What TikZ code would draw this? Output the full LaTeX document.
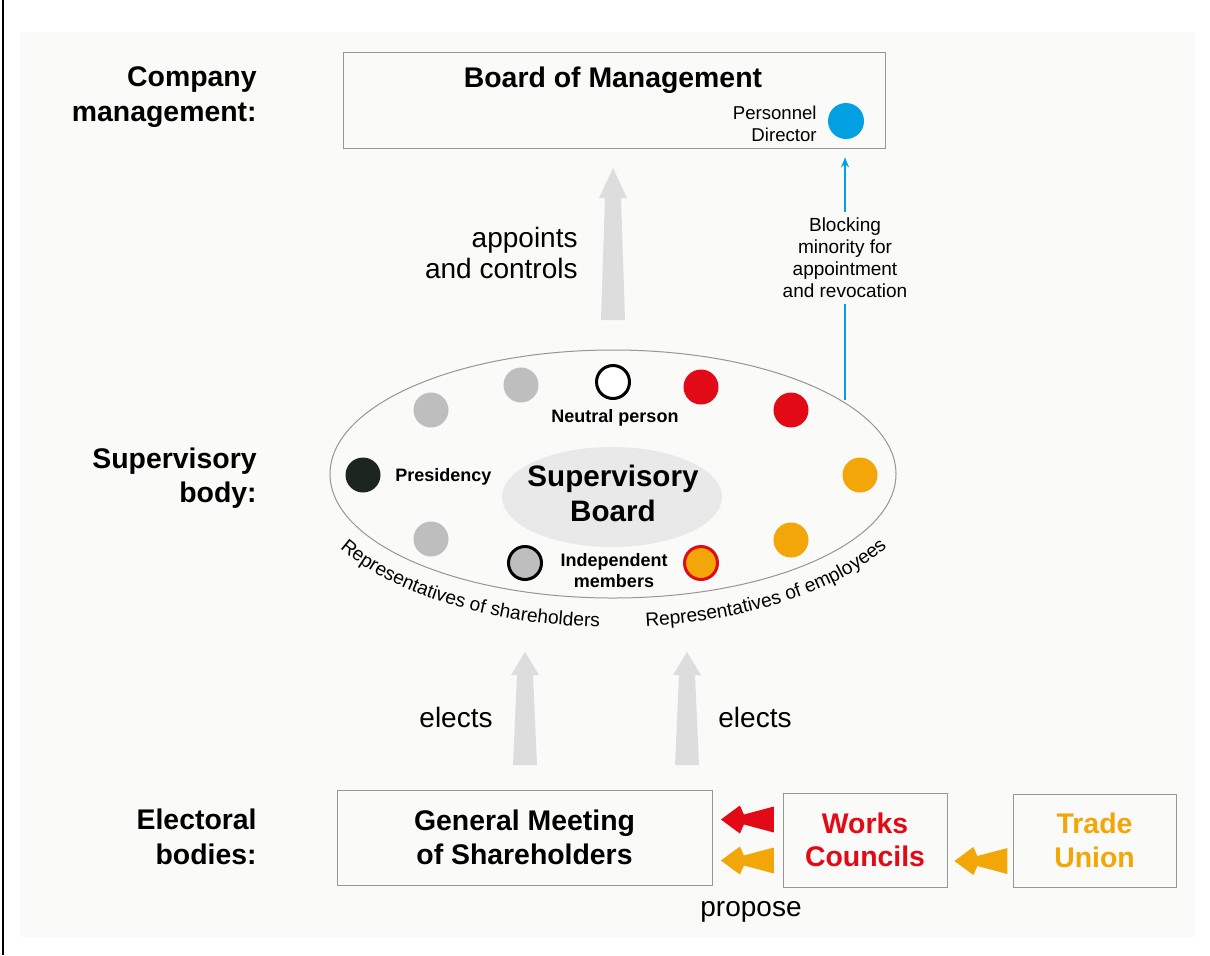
\documentclass[tikz,border=0pt]{standalone}
\usepackage{fontspec}
\setmainfont{Liberation Sans}
\usetikzlibrary{calc,positioning,arrows.meta,shapes.geometric,decorations.text}

\definecolor{boardred}{RGB}{226,10,22}
\definecolor{unionorange}{RGB}{242,166,8}
\definecolor{holdergrey}{RGB}{190,190,190}
\definecolor{presidark}{RGB}{28,38,30}
\definecolor{directorblue}{RGB}{0,160,227}
\definecolor{liftgrey}{RGB}{221,221,221}
\definecolor{coregrey}{RGB}{233,233,233}
\definecolor{framegrey}{RGB}{150,150,150}
\definecolor{paper}{RGB}{250,250,249}

% big grey arrow: tip, foot, head length
\newcommand{\liftarrow}[3]{%
  \fill[liftgrey] (#1) -- ($(#1)+(14,-#3)$) -- ($(#1)+(8,-#3)$) -- ($(#2)+(12,0)$)
    -- ($(#2)+(-12,0)$) -- ($(#1)+(-8,-#3)$) -- ($(#1)+(-14,-#3)$) -- cycle;}
% feathered arrow pointing left: colour, tip
\newcommand{\proparrow}[2]{%
  \fill[#1] (#2) -- ++(19,14) -- ++(4,-9) -- ++(30,8) -- ++(0,-26) -- ++(-30,8) -- ++(-4,-9) -- cycle;}

\begin{document}
\begin{tikzpicture}[x=0.5pt,y=0.5pt,
  box/.style={draw=framegrey,line width=0.4pt,inner sep=0pt},
  tierlabel/.style={anchor=east,align=right,inner sep=0pt,font=\fontsize{14.2}{17.2}\selectfont\bfseries},
  headtext/.style={align=center,font=\fontsize{14.2}{16.8}\selectfont\bfseries},
  plaintext/.style={font=\fontsize{14}{15.5}\selectfont},
  seat/.style={circle,minimum size=17.5pt,inner sep=0pt},
  ringseat/.style={circle,minimum size=16.5pt,inner sep=0pt,line width=1.5pt},
  seatlabel/.style={font=\fontsize{9}{10.5}\selectfont\bfseries,align=center},
  bluewire/.style={directorblue,line width=1pt}]
  \useasboundingbox (0,0) rectangle (1210,-955);
  \fill[paper] (20,-32) rectangle (1195,-937);
  \draw[line width=1pt] (2.5,0) -- (2.5,-955);

  % tiers
  \node[tierlabel] (mgmt) at (257,-97) {Company\\management:};
  \node[tierlabel] (superv) at (257,-478) {Supervisory\\body:};
  \node[tierlabel] (elect) at (257,-837) {Electoral\\bodies:};

  % board of management
  \node[box,minimum width=271pt,minimum height=48pt] (bom) at (614,-100) {};
  \node[headtext] (bomtitle) at (613,-80) {Board of Management};
  \node[font=\fontsize{9.3}{10.8}\selectfont,align=right,anchor=east,inner sep=0pt] (pdtext) at (817,-124) {Personnel\\Director};
  \node[seat,fill=directorblue,minimum size=18pt] (pd) at (846,-121) {};

  \coordinate (apptip) at (613,-168);
  \coordinate (appfoot) at (613,-320);
  \liftarrow{apptip}{appfoot}{30}
  \node[plaintext,align=right,anchor=east,inner sep=0pt] (appoints) at (578,-253) {appoints\\and controls};

  \node[font=\fontsize{9.5}{11}\selectfont,align=center,inner sep=3pt] (blk) at (845,-258) {Blocking\\minority for\\appointment\\and revocation};
  \coordinate (blkfoot) at (845,-400);
  \draw[bluewire] (blkfoot) -- (blk.south);
  \draw[bluewire,-{Stealth[length=5pt,width=4pt]},shorten >=4.5pt] (blk.north) -- (blk.north |- bom.south);

  % supervisory board
  \node[ellipse,draw=framegrey,line width=0.5pt,minimum width=283pt,minimum height=124pt,inner sep=0pt] (sb) at (613,-474) {};
  \node[ellipse,fill=coregrey,minimum width=110pt,minimum height=50pt,inner sep=0pt] (core) at (612,-497) {};
  \node[align=center,font=\fontsize{14.8}{17.5}\selectfont\bfseries] (sbtitle) at (613,-493) {Supervisory\\Board};

  \node[seat,fill=holdergrey] (s1) at (431,-410) {};
  \node[seat,fill=holdergrey] (s2) at (521,-385) {};
  \node[ringseat,draw=black,fill=white] (neutral) at (613,-382) {};
  \node[seat,fill=boardred] (e1) at (701,-387) {};
  \node[seat,fill=boardred] (e2) at (791,-410) {};
  \node[seat,fill=unionorange] (e3) at (860,-475) {};
  \node[seat,fill=unionorange] (e4) at (791,-540) {};
  \node[ringseat,draw=boardred,fill=unionorange] (indepe) at (701,-563) {};
  \node[ringseat,draw=black,fill=holdergrey] (indeps) at (525,-563) {};
  \node[seat,fill=holdergrey] (s3) at (431,-539) {};
  \node[seat,fill=presidark] (pres) at (363,-475) {};

  \node[seatlabel] (neutrallbl) at (615,-418) {Neutral person};
  \node[seatlabel,anchor=west,inner sep=0pt] (preslbl) at (395,-477) {Presidency};
  \node[seatlabel] (indeplbl) at (614,-571) {Independent\\members};

  \path[decorate,decoration={text along path,text align=center,
      text={|\fontsize{9.6}{11}\selectfont|Representatives of shareholders}}]
    ($(sb.center)+(205:312 and 153)$) arc[start angle=205,end angle=270,x radius=312,y radius=153];
  \path[decorate,decoration={text along path,text align=center,
      text={|\fontsize{9.6}{11}\selectfont|Representatives of employees}}]
    ($(sb.center)+(272:312 and 153)$) arc[start angle=272,end angle=338,x radius=312,y radius=153];

  % elections
  \coordinate (lefttip) at (525,-652);
  \coordinate (leftfoot) at (525,-765);
  \coordinate (righttip) at (687,-652);
  \coordinate (rightfoot) at (687,-765);
  \liftarrow{lefttip}{leftfoot}{23}
  \liftarrow{righttip}{rightfoot}{23}
  \node[plaintext,anchor=east,inner sep=0pt] (electsl) at (493,-717) {elects};
  \node[plaintext,anchor=west,inner sep=0pt] (electsr) at (718,-717) {elects};

  % electoral bodies
  \node[box,headtext,minimum width=187.5pt,minimum height=47.5pt] (gm) at (524.5,-837.5) {General Meeting\\of Shareholders};
  \node[box,headtext,text=boardred,minimum width=82pt,minimum height=47pt] (wc) at (865,-840) {Works\\Councils};
  \node[box,headtext,text=unionorange,minimum width=81.5pt,minimum height=46.5pt] (tu) at (1094.5,-840.5) {Trade\\Union};

  \coordinate (redtip) at ($(gm.east)+(8.5,18)$);
  \coordinate (orangetip) at ($(gm.east)+(8.5,-23)$);
  \coordinate (uniontip) at ($(wc.east)+(7,-21)$);
  \proparrow{boardred}{redtip}
  \proparrow{unionorange}{orangetip}
  \proparrow{unionorange}{uniontip}
  \node[plaintext] (propose) at (751,-912) {propose};
\end{tikzpicture}
\end{document}
